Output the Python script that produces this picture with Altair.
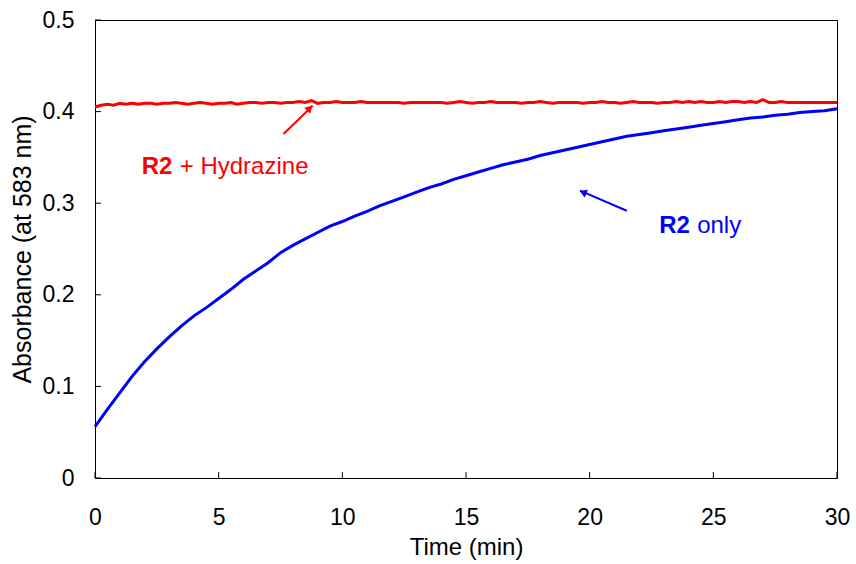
import altair as alt
import numpy as np
import pandas as pd

# ---- data ----
blue_t = [i * 0.5 for i in range(61)]
blue_A = [0.056, 0.075, 0.093, 0.111, 0.127, 0.141, 0.154, 0.166, 0.177, 0.186,
          0.196, 0.206, 0.217, 0.226, 0.235, 0.246, 0.254, 0.261, 0.268, 0.275,
          0.280, 0.286, 0.291, 0.297, 0.302, 0.307, 0.312, 0.317, 0.321, 0.326,
          0.330, 0.334, 0.338, 0.342, 0.345, 0.348, 0.352, 0.355, 0.358, 0.361,
          0.364, 0.367, 0.370, 0.373, 0.375, 0.377, 0.379, 0.381, 0.383, 0.385,
          0.387, 0.389, 0.391, 0.393, 0.394, 0.396, 0.397, 0.399, 0.400, 0.401,
          0.403]

red_t = [i * 0.25 for i in range(121)]
red_A = [0.405,
         0.407, 0.408, 0.407, 0.409,
         0.408, 0.409, 0.408, 0.409,
         0.409, 0.408, 0.409, 0.409,
         0.410, 0.409, 0.408, 0.409,
         0.410, 0.409, 0.408, 0.409,
         0.409, 0.410, 0.408, 0.409,
         0.410, 0.410, 0.409, 0.410,
         0.410, 0.409, 0.410, 0.410,
         0.411, 0.410, 0.412, 0.409,
         0.410, 0.410, 0.411, 0.410,
         0.410, 0.410, 0.411, 0.410,
         0.410, 0.410, 0.410, 0.410,
         0.410, 0.409, 0.410, 0.410,
         0.410, 0.410, 0.410, 0.410,
         0.409, 0.410, 0.411, 0.410,
         0.409, 0.410, 0.410, 0.411,
         0.410, 0.410, 0.410, 0.410,
         0.409, 0.410, 0.410, 0.411,
         0.410, 0.409, 0.410, 0.410,
         0.410, 0.410, 0.409, 0.410,
         0.410, 0.411, 0.410, 0.410,
         0.409, 0.410, 0.411, 0.410,
         0.410, 0.410, 0.409, 0.410,
         0.410, 0.411, 0.410, 0.411,
         0.410, 0.411, 0.410, 0.410,
         0.411, 0.410, 0.411, 0.411,
         0.410, 0.411, 0.410, 0.413,
         0.410, 0.410, 0.411, 0.410,
         0.410, 0.410, 0.410, 0.410,
         0.410, 0.410, 0.410, 0.410]

x_ticks = [0, 5, 10, 15, 20, 25, 30]
y_ticks = [0, 0.1, 0.2, 0.3, 0.4, 0.5]

# annotation anchors (data coords)
red_label = {"t": 1.89, "A": 0.3316}
blue_label = {"t": 22.81, "A": 0.2675}
red_arrow_t = [7.62, 8.80]
red_arrow_A = [0.3755, 0.4063]
blue_arrow_t = [21.50, 19.61]
blue_arrow_A = [0.2918, 0.3137]
red_head = {"t": 8.686, "A": 0.4038}
blue_head = {"t": 19.73, "A": 0.3119}

FONT = "Arial, Liberation Sans"

blue_df = pd.DataFrame({"t": blue_t, "A": blue_A})
red_df = pd.DataFrame({"t": red_t, "A": red_A})

xs = alt.Scale(domain=[0, 30], nice=False, zero=False)
ys = alt.Scale(domain=[0, 0.5], nice=False, zero=False)

x_axis = alt.Axis(values=x_ticks, ticks=False, grid=False, domainColor="black",
                  labelFontSize=23, labelFont=FONT, labelColor="black", labelPadding=28,
                  title="Time (min)", titleFont=FONT, titleFontSize=24,
                  titleFontWeight="normal", titleColor="black", titlePadding=6,
                  labelFlush=False)
y_axis = alt.Axis(values=y_ticks, ticks=False, grid=False, domainColor="black",
                  labelFontSize=23, labelFont=FONT, labelColor="black", labelPadding=21,
                  format="~g", title="Absorbance (at 583 nm)", titleFont=FONT,
                  titleFontSize=25, titleFontWeight="normal", titleColor="black",
                  titlePadding=7, labelFlush=False)

X = alt.X("t:Q", scale=xs, axis=x_axis)
Y = alt.Y("A:Q", scale=ys, axis=y_axis)

blue_line = alt.Chart(blue_df).mark_line(color="#0000FF", strokeWidth=3).encode(x=X, y=Y)
red_line = alt.Chart(red_df).mark_line(color="#FF0000", strokeWidth=3).encode(x=X, y=Y)

ytick_df = pd.DataFrame({"A": y_ticks})
xtick_df = pd.DataFrame({"t": x_ticks})
yticks = alt.Chart(ytick_df).mark_rule(color="black", strokeWidth=1).encode(
    y=Y, x=alt.value(0), x2=alt.value(6))
xticks = alt.Chart(xtick_df).mark_rule(color="black", strokeWidth=1).encode(
    x=X, y=alt.value(458), y2=alt.value(452))

red_arr = alt.Chart(pd.DataFrame({"t": red_arrow_t, "A": red_arrow_A})).mark_line(
    color="#FF0000", strokeWidth=2).encode(x=X, y=Y)
blue_arr = alt.Chart(pd.DataFrame({"t": blue_arrow_t, "A": blue_arrow_A})).mark_line(
    color="#0000FF", strokeWidth=2).encode(x=X, y=Y)
red_hd = alt.Chart(pd.DataFrame([red_head])).mark_point(
    shape="triangle-up", filled=True, color="#FF0000", size=70, angle=46, opacity=1).encode(x=X, y=Y)
blue_hd = alt.Chart(pd.DataFrame([blue_head])).mark_point(
    shape="triangle-up", filled=True, color="#0000FF", size=70, angle=293, opacity=1).encode(x=X, y=Y)

red_lab_df = pd.DataFrame([red_label])
blue_lab_df = pd.DataFrame([blue_label])
r2a = alt.Chart(red_lab_df).mark_text(text="R2", font=FONT, fontSize=24, fontWeight="bold",
                                      color="#FF0000", align="left", baseline="alphabetic").encode(x=X, y=Y)
r2b = alt.Chart(red_lab_df).mark_text(text="+ Hydrazine", font=FONT, fontSize=24,
                                      color="#FF0000", align="left", baseline="alphabetic", dx=38).encode(x=X, y=Y)
b2a = alt.Chart(blue_lab_df).mark_text(text="R2", font=FONT, fontSize=24, fontWeight="bold",
                                       color="#0000FF", align="left", baseline="alphabetic").encode(x=X, y=Y)
b2b = alt.Chart(blue_lab_df).mark_text(text="only", font=FONT, fontSize=24,
                                       color="#0000FF", align="left", baseline="alphabetic", dx=38).encode(x=X, y=Y)

chart = alt.layer(blue_line, red_line, yticks, xticks, red_arr, blue_arr, red_hd, blue_hd,
                  r2a, r2b, b2a, b2b).properties(
    width=742, height=458,
    padding={"left": 95, "top": 20, "right": 19, "bottom": 86},
    autosize=alt.AutoSizeParams(type="none"),
    background="white",
).configure_view(stroke="black", strokeWidth=1)

chart.save("out.html", embed_options={"renderer": "svg", "actions": False})
